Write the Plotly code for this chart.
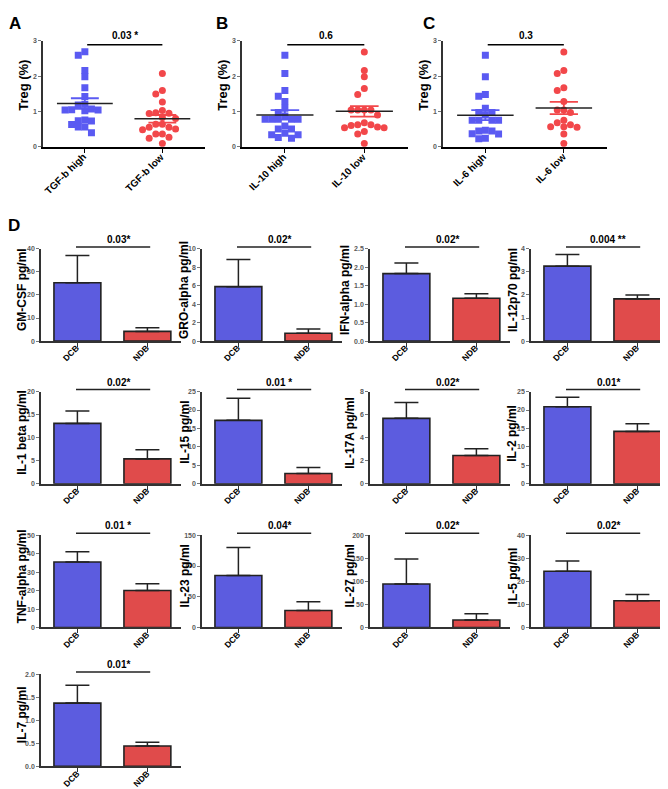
import numpy as np
import plotly.graph_objects as go

# ---------------- data ----------------
treg_labels = [["TGF-b high", "TGF-b low"], ["IL-10 high", "IL-10 low"], ["IL-6 high", "IL-6 low"]]
tgfb_high = [2.69, 2.59, 2.16, 1.98, 1.67, 1.42, 1.18, 1.07, 1.04, 1.04, 1.02, 0.76, 0.73, 0.74,
             0.63, 0.56, 0.56, 0.40, 1.05, 1.20]
tgfb_low = [2.07, 1.59, 1.49, 1.27, 1.03, 0.95, 0.94, 0.96, 0.80, 0.83, 0.55, 0.55, 0.64, 0.64,
            0.50, 0.48, 0.36, 0.27, 0.36, 0.24, 0.09]
il10_high = [2.59, 2.07, 1.59, 1.43, 1.28, 1.09, 0.97, 0.87, 0.78, 0.78, 0.78, 0.78, 0.78, 0.59,
             0.50, 0.50, 0.34, 0.34, 0.38, 0.24, 0.26]
il10_low = [2.68, 2.16, 1.98, 1.65, 1.48, 1.04, 1.04, 1.04, 1.04, 0.68, 0.54, 0.62, 0.62, 0.54,
            0.56, 0.43, 0.60, 0.36, 0.09, 0.90]
il6_high = [2.59, 1.98, 1.43, 1.48, 1.09, 0.97, 0.97, 0.90, 0.75, 0.75, 0.75, 0.75, 0.45, 0.45,
            0.47, 0.36, 0.37, 0.23, 0.24]
il6_low = [2.68, 2.16, 2.07, 1.67, 1.59, 1.28, 1.04, 1.04, 0.97, 0.75, 0.62, 0.57, 0.57, 0.68,
           0.55, 0.36, 0.09]
treg_p = ["0.03 *", "0.6", "0.3"]

cytokines = ["GM-CSF", "GRO-alpha", "IFN-alpha", "IL-12p70", "IL-1 beta", "IL-15", "IL-17A",
             "IL-2", "TNF-alpha", "IL-23", "IL-27", "IL-5", "IL-7"]
groups = ["DCB", "NDB"]
dcb_mean = [25.3, 5.9, 1.83, 3.25, 13.1, 17.2, 5.68, 20.9, 35.5, 84.6, 94.3, 24.4, 1.37]
dcb_sem = [11.8, 2.96, 0.29, 0.51, 2.7, 6.0, 1.38, 2.6, 5.6, 45.7, 54.3, 4.5, 0.39]
ndb_mean = [4.2, 0.85, 1.16, 1.83, 5.4, 2.8, 2.45, 14.2, 20.1, 27.7, 16.4, 11.6, 0.44]
ndb_sem = [1.6, 0.45, 0.12, 0.17, 2.0, 1.6, 0.6, 2.1, 3.6, 14.3, 13.6, 2.7, 0.08]
cyt_p = ["0.03*", "0.02*", "0.02*", "0.004 **", "0.02*", "0.01 *", "0.02*", "0.01*", "0.01 *",
         "0.04*", "0.02*", "0.02*", "0.01*"]
cyt_ymax = [40, 10, 2.5, 4, 20, 25, 8, 25, 50, 150, 200, 40, 2.0]
cyt_dtick = [10, 2, 0.5, 1, 5, 5, 2, 5, 10, 50, 50, 10, 0.5]

# ---------------- style / layout ----------------
W, H = 668, 789
FONT = "Arial, Liberation Sans, Helvetica, sans-serif"
BLUE_BAR, RED_BAR = "#5C5CDF", "#E04B4B"
BLUE_PT, RED_PT = "#5A5AF2", "#F2474A"
AX = "#333333"
TICKGRAY = "#777777"
TICKTXT = "#5a5a5a"
title_off = [19, 18, 25, 18, 19, 17, 20, 19, 19, 17, 20, 18, 19]

layout = dict(width=W, height=H, margin=dict(l=0, r=0, t=0, b=0),
              paper_bgcolor="white", plot_bgcolor="white", showlegend=False,
              font=dict(family=FONT, color="black"))
ann, shp = [], []
fig = go.Figure()


def px_x(p):
    return p / W


def px_y(p):
    return 1 - p / H


def add_axes(i, x0, x1, y0, y1, xax, yax):
    s = "" if i == 1 else str(i)
    layout["xaxis" + s] = dict(domain=[px_x(x0), px_x(x1)], anchor="y" + s, **xax)
    layout["yaxis" + s] = dict(domain=[px_y(y1), px_y(y0)], anchor="x" + s, **yax)
    return "x" + s, "y" + s


def swarm(vals, ppx, ppy, d=6.6):
    vals = np.asarray(vals)
    order = np.argsort(-vals, kind="stable")
    placed = []
    offs = np.zeros(len(vals))
    for i in order:
        y = vals[i] * ppy
        for k in [0, -1, 1, -2, 2, -3, 3, -4, 4, -5, 5]:
            x = k * d
            if all(abs(x - px) >= d - 0.2 or abs(y - py) >= d - 0.2 for px, py in placed):
                break
        placed.append((x, y))
        offs[i] = x / ppx
    return offs


def letter(t, x, y):
    ann.append(dict(text="<b>%s</b>" % t, x=px_x(x), y=px_y(y), xref="paper", yref="paper",
                    showarrow=False, xanchor="center", yanchor="middle",
                    font=dict(size=17, family=FONT, color="black")))


def ytitle(t, x, yc, size):
    ann.append(dict(text="<b>%s</b>" % t, x=px_x(x), y=px_y(yc), xref="paper", yref="paper",
                    showarrow=False, xanchor="center", yanchor="middle", textangle=-90,
                    font=dict(size=size, family=FONT, color="black")))


def xlabels(xr, yr, texts, size, dx, dy):
    for i, t in enumerate(texts):
        ann.append(dict(text="<b>%s</b>" % t, xref=xr, x=i, yref=yr + " domain", y=0,
                        xshift=dx, yshift=-dy, showarrow=False, textangle=-45,
                        xanchor="right", yanchor="top", borderpad=0,
                        font=dict(size=size, family=FONT, color="black")))


def bold(lst):
    return ["<b>%s</b>" % t for t in lst]


# ---------------- panels A-C ----------------
treg_data = [(tgfb_high, tgfb_low), (il10_high, il10_low), (il6_high, il6_low)]
sc_x0 = [35, 234, 435]
sc_x1 = [197, 400, 599]
sc_top, sc_bot = 29, 136
xr_sc = [-0.54, 1.55]
letters = [("A", 7, 12), ("B", 214, 12), ("C", 421, 12)]

for k in range(3):
    xa = dict(range=xr_sc, tickmode="array", tickvals=[0, 1], showticklabels=False,
              ticks="outside", ticklen=4, tickwidth=1.2, tickcolor="black",
              showline=True, linecolor="black", linewidth=1.5, showgrid=False, zeroline=False)
    ya = dict(range=[0, 3], tickmode="array", tickvals=[0, 1, 2, 3], ticktext=bold(["0", "1", "2", "3"]),
              ticks="outside", ticklen=3, tickwidth=1,
              tickcolor=TICKGRAY, showline=True, linecolor=AX, linewidth=1.5, showgrid=False,
              zeroline=False, tickfont=dict(size=7, family=FONT, color=TICKTXT))
    xr, yr = add_axes(k + 1, sc_x0[k], sc_x1[k], sc_top, sc_bot, xa, ya)
    xlabels(xr, yr, treg_labels[k], 10, 5, 3)
    ppx = (sc_x1[k] - sc_x0[k]) / (xr_sc[1] - xr_sc[0])
    ppy = (sc_bot - sc_top) / 3.0
    for g, (vals, col, sym) in enumerate([(treg_data[k][0], BLUE_PT, "square"),
                                         (treg_data[k][1], RED_PT, "circle")]):
        v = np.asarray(vals)
        offs = swarm(v, ppx, ppy)
        fig.add_trace(go.Scatter(x=g + offs, y=v, mode="markers", xaxis=xr, yaxis=yr,
                                 marker=dict(symbol=sym, size=7, color=col, line=dict(width=0)),
                                 hoverinfo="skip"))
        m = v.mean()
        se = v.std(ddof=1) / np.sqrt(len(v))
        fig.add_trace(go.Scatter(x=[g - 0.18, g + 0.18, None, g - 0.18, g + 0.18, None, g, g],
                                 y=[m + se, m + se, None, m - se, m - se, None, m - se, m + se],
                                 mode="lines", line=dict(color=col, width=1.8),
                                 xaxis=xr, yaxis=yr, hoverinfo="skip"))
        fig.add_trace(go.Scatter(x=[g - 0.36, g + 0.36], y=[m, m], mode="lines",
                                 line=dict(color="#222222", width=1.5),
                                 xaxis=xr, yaxis=yr, hoverinfo="skip"))
    shp.append(dict(type="line", xref=xr, yref=yr + " domain", x0=0.03, x1=1.0,
                    y0=0.963, y1=0.963, line=dict(color="black", width=1.5)))
    ann.append(dict(text="<b>%s</b>" % treg_p[k], xref=xr, yref=yr + " domain", x=0.52,
                    y=1.047, showarrow=False, xanchor="center", yanchor="middle",
                    font=dict(size=10, family=FONT, color="black")))
    ytitle("Treg (%)", sc_x0[k] - 19, (sc_top + sc_bot) / 2 - 8, 13)
    letter(*letters[k])

# ---------------- panel D ----------------
letter("D", 6, 215)
col_x0 = [33, 194, 362, 523]
col_w = 140
row_top = [239, 383, 528, 668]
row_h = 93
xr_bar = [-0.52, 1.48]

for j, name in enumerate(cytokines):
    r, c = divmod(j, 4)
    x0 = col_x0[c]
    x1 = x0 + col_w
    y0 = row_top[r]
    y1 = y0 + row_h
    step = cyt_dtick[j]
    nt = int(round(cyt_ymax[j] / step))
    tv = [step * i for i in range(nt + 1)]
    tt = [("%.1f" % t) if step < 1 else ("%d" % t) for t in tv]
    xa = dict(range=xr_bar, tickmode="array", tickvals=[0, 1], showticklabels=False,
              ticks="outside", ticklen=4, tickwidth=1.2, tickcolor=AX,
              showline=True, linecolor=AX, linewidth=1.5, showgrid=False, zeroline=False)
    ya = dict(range=[0, cyt_ymax[j]], tickmode="array", tickvals=tv, ticktext=bold(tt),
              ticks="outside", ticklen=3, tickwidth=1, tickcolor=TICKGRAY,
              showline=True, linecolor=AX, linewidth=1.5, showgrid=False, zeroline=False,
              tickfont=dict(size=7, family=FONT, color=TICKTXT))
    xr, yr = add_axes(4 + j, x0, x1, y0, y1, xa, ya)
    xlabels(xr, yr, groups, 8.5, 5, 1)
    fig.add_trace(go.Bar(x=[0, 1], y=[dcb_mean[j], ndb_mean[j]], width=0.67,
                         marker=dict(color=[BLUE_BAR, RED_BAR], line=dict(color="#222222", width=1.6)),
                         error_y=dict(type="data", symmetric=False,
                                      array=[dcb_sem[j], ndb_sem[j]], arrayminus=[0, 0],
                                      color="#222222", thickness=1.5, width=12),
                         xaxis=xr, yaxis=yr, hoverinfo="skip"))
    shp.append(dict(type="line", xref=xr, yref=yr + " domain", x0=-0.02, x1=1.04,
                    y0=1 + 2.0 / row_h, y1=1 + 2.0 / row_h, line=dict(color="#222222", width=1.5)))
    ann.append(dict(text="<b>%s</b>" % cyt_p[j], xref=xr, yref=yr + " domain", x=0.58,
                    y=1 + 9.5 / row_h, showarrow=False, xanchor="center", yanchor="middle",
                    font=dict(size=10, family=FONT, color="black")))
    ytitle(name + " pg/ml", x0 - title_off[j], (y0 + y1) / 2 - 5, 12)

layout["annotations"] = ann
layout["shapes"] = shp
fig.update_layout(**layout)
fig.write_html("out.html")
